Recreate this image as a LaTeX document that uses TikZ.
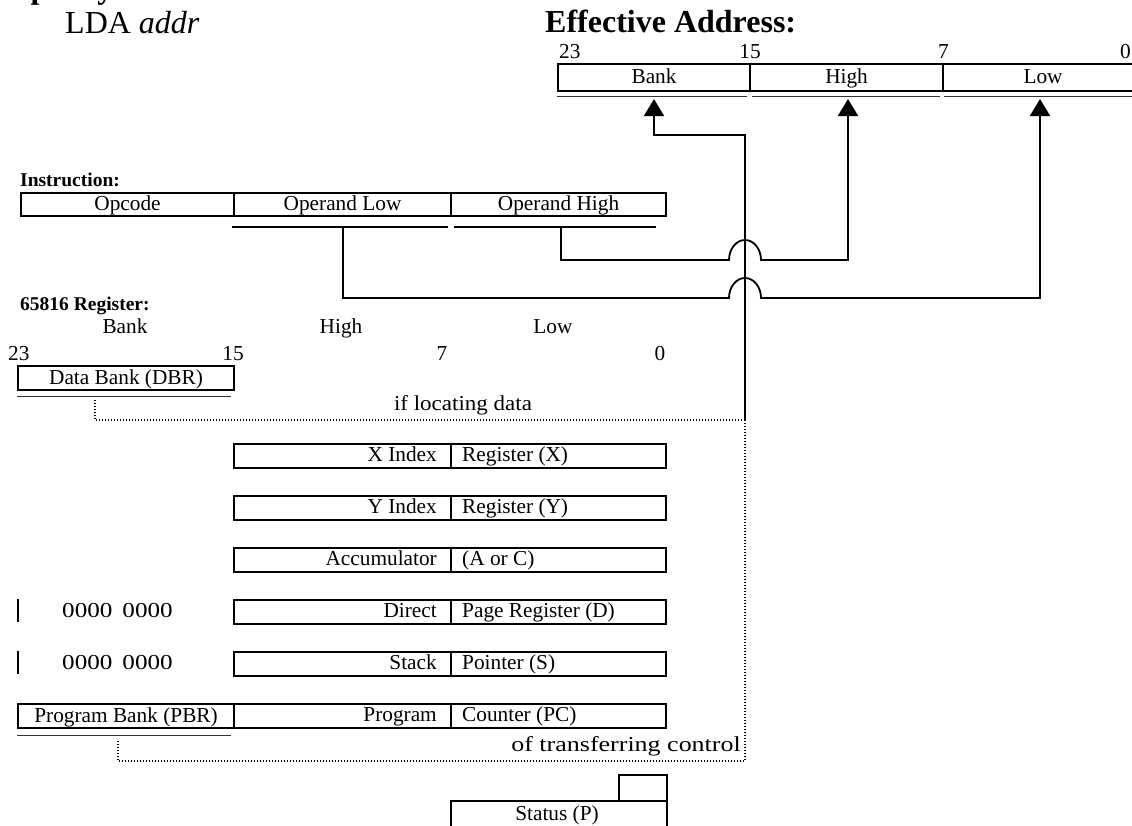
\documentclass[tikz,border=0pt]{standalone}
\usepackage{fontspec}
\setmainfont{Liberation Serif}
\usepackage{graphicx}
\usetikzlibrary{arrows.meta}
\newcommand\fhead{\fontsize{32}{36}\selectfont}
\newcommand\fsm{\fontsize{21.3}{24}\selectfont}
\newcommand\flab{\fontsize{19.5}{22}\selectfont\bfseries}
\newcommand\wide[2]{\scalebox{#1}[1]{#2}}
\tikzset{
 head/.style={font=\fhead, inner sep=0pt},
 txt/.style={font=\fsm, inner sep=0pt},
 lab/.style={font=\flab, inner sep=0pt},
 cell/.style={draw, line width=2.1pt, font=\fsm, inner sep=0pt, anchor=north west,
   text height=15pt, text depth=3pt, minimum height=24pt},
 ul/.style={line width=1.6pt},
 dbl/.style={double, double distance=1pt, line width=0.9pt, draw=black!80},
 conn/.style={line width=1.8pt},
 arr/.style={conn, -{Triangle[width=20pt,length=17pt]}},
 dots/.style={line width=1.2pt, dash pattern=on 1.2pt off 1.8pt},
 bar/.style={line width=2.8pt},
}
\begin{document}
\begin{tikzpicture}[x=1pt,y=-1pt]
\useasboundingbox (0,0) rectangle (1132,825);

% headings
\node[head, font=\fhead\bfseries, anchor=base west] (syntax) at (-30,-2) {Sample Syntax:};
\node[head, anchor=base west] (lda) at (65,33) {LDA \textit{addr}};
\node[head, font=\fhead\bfseries, anchor=base west] (eatitle) at (545,32) {Effective Address:};

% effective address
\node[txt, anchor=base west] (e23) at (559,58) {23};
\node[txt, anchor=base] (e15) at (750,58) {15};
\node[txt, anchor=base west] (e7) at (938,58) {7};
\node[txt, anchor=base east] (e0) at (1131,58) {0};
\node[cell, minimum width=192, minimum height=27] (eab) at (557,63) {Bank};
\node[cell, minimum width=193, minimum height=27] (eah) at (749,63) {High};
\node[cell, minimum width=200, minimum height=27] (eal) at (942,63) {Low};
\draw[dbl] (557,97) -- (747,97);
\draw[dbl] (752,97) -- (940,97);
\draw[dbl] (944,97) -- (1140,97);
\coordinate (tipB) at (654,99);
\coordinate (tipH) at (848,99);
\coordinate (tipL) at (1040,99);

% instruction
\node[lab, anchor=base west] (instr) at (20,186) {Instruction:};
\node[cell, minimum width=213, minimum height=23] (opc) at (20,192) {Opcode};
\node[cell, minimum width=217, minimum height=23] (opl) at (233,192) {Operand Low};
\node[cell, minimum width=215, minimum height=23] (oph) at (450,192) {Operand High};
\draw[ul] (232,227) -- (448,227);
\draw[ul] (454,227) -- (656,227);
\coordinate (lowsrc) at (343,227);
\coordinate (highsrc) at (561,227);

% connectors
\coordinate (vbot) at (745,420);
\coordinate (vturn) at (745,135);
\draw[arr] (vbot) -- (vturn) -| (tipB);
\draw[arr] (highsrc) |- (729,260) arc[start angle=180, end angle=0, x radius=16pt, y radius=20pt] -| (tipH);
\draw[arr] (lowsrc) |- (729,298) arc[start angle=180, end angle=0, x radius=16pt, y radius=20pt] -| (tipL);

% register header
\node[lab, anchor=base west] (regttl) at (20,310) {65816 Register:};
\node[txt, anchor=base] (rbank) at (125,333) {Bank};
\node[txt, anchor=base] (rhigh) at (341,333) {High};
\node[txt, anchor=base] (rlow) at (553,333) {Low};
\node[txt, anchor=base west] (r23) at (8,360) {23};
\node[txt, anchor=base] (r15) at (233,360) {15};
\node[txt, anchor=base] (r7) at (442,360) {7};
\node[txt, anchor=base] (r0) at (660,360) {0};

% data bank
\node[cell, minimum width=216] (dbr) at (17,365) {Data Bank (DBR)};
\draw[dbl] (17,397) -- (231,397);
\coordinate (dbrtap) at (95,400);
\draw[dots] (dbrtap) |- (vbot);
\node[txt, anchor=base] (locdata) at (463,410) {\wide{1.08}{if locating data}};

% X
\node[cell, minimum width=217] (xL) at (233,443) {};
\node[cell, minimum width=215] (xR) at (450,443) {};
\node[txt, anchor=base east] (xLt) at (437,461) {X Index};
\node[txt, anchor=base west] (xRt) at (462,461) {Register (X)};
% Y
\node[cell, minimum width=217] (yL) at (233,495) {};
\node[cell, minimum width=215] (yR) at (450,495) {};
\node[txt, anchor=base east] (yLt) at (437,513) {Y Index};
\node[txt, anchor=base west] (yRt) at (462,513) {Register (Y)};
% A
\node[cell, minimum width=217] (aL) at (233,547) {};
\node[cell, minimum width=215] (aR) at (450,547) {};
\node[txt, anchor=base east] (aLt) at (437,565) {Accumulator};
\node[txt, anchor=base west] (aRt) at (462,565) {(A or C)};
% D
\draw[bar] (18,599) -- (18,622);
\node[txt, anchor=base west] (dz) at (62,617) {\wide{1.18}{0000}\hspace{10pt}\wide{1.18}{0000}};
\node[cell, minimum width=217] (dL) at (233,599) {};
\node[cell, minimum width=215] (dR) at (450,599) {};
\node[txt, anchor=base east] (dLt) at (437,617) {Direct};
\node[txt, anchor=base west] (dRt) at (462,617) {Page Register (D)};
% S
\draw[bar] (18,651) -- (18,674);
\node[txt, anchor=base west] (sz) at (62,669) {\wide{1.18}{0000}\hspace{10pt}\wide{1.18}{0000}};
\node[cell, minimum width=217] (sL) at (233,651) {};
\node[cell, minimum width=215] (sR) at (450,651) {};
\node[txt, anchor=base east] (sLt) at (437,669) {Stack};
\node[txt, anchor=base west] (sRt) at (462,669) {Pointer (S)};
% PC
\node[cell, minimum width=216] (pbr) at (17,703) {Program Bank (PBR)};
\node[cell, minimum width=217] (pL) at (233,703) {};
\node[cell, minimum width=215] (pR) at (450,703) {};
\node[txt, anchor=base east] (pLt) at (437,721) {Program};
\node[txt, anchor=base west] (pRt) at (462,721) {Counter (PC)};
\draw[dbl] (17,736) -- (231,736);
\coordinate (pbrtap) at (118,739);
\coordinate (dotcorner) at (745,761);
\draw[dots] (vbot) -- (dotcorner) -| (pbrtap);
\node[txt, anchor=base east] (xfer) at (741,751) {\wide{1.22}{of transferring control}};

% status
\node[cell, minimum width=48, minimum height=26] (pflags) at (618,774) {};
\node[cell, minimum width=216, minimum height=35] (status) at (450,800) {};
\node[txt, anchor=base] (statust) at (557,820) {Status (P)};
\end{tikzpicture}
\end{document}
